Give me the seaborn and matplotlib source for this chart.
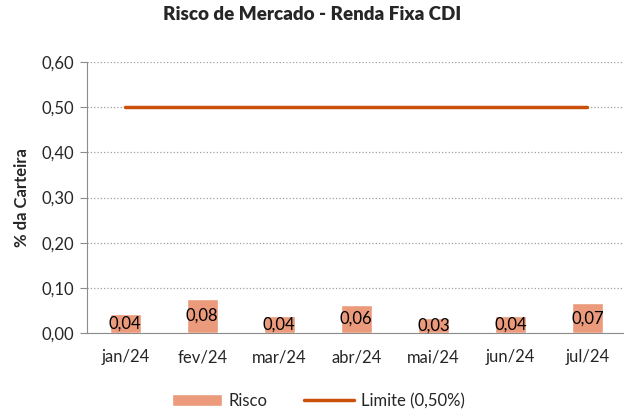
import matplotlib
matplotlib.use("Agg")
import matplotlib.pyplot as plt
import seaborn as sns
import pandas as pd
from matplotlib.ticker import FuncFormatter

meses = ['jan/24', 'fev/24', 'mar/24', 'abr/24', 'mai/24', 'jun/24', 'jul/24']
risco = [0.042, 0.076, 0.038, 0.063, 0.033, 0.038, 0.066]
rotulos = ['0,04', '0,08', '0,04', '0,06', '0,03', '0,04', '0,07']
limite = [0.50, 0.50, 0.50, 0.50, 0.50, 0.50, 0.50]

cor_barra = '#EB9A7C'
cor_linha = '#C9510C'

sns.set_style('white')
plt.rcParams['font.family'] = ['Lato', 'DejaVu Sans']

df = pd.DataFrame({'mes': meses, 'risco': risco, 'limite': limite})

fig = plt.figure(figsize=(6.24, 4.19), dpi=100)
ax = fig.add_axes([0.139, 0.205, 0.864, 0.647])

sns.barplot(data=df, x='mes', y='risco', color=cor_barra, width=0.4,
            saturation=1, ax=ax, label='Risco', zorder=3)
sns.lineplot(x=range(len(meses)), y=limite, color=cor_linha, linewidth=2.5,
             ax=ax, label='Limite (0,50%)', zorder=4)

# rótulos no meio da barra
for i, v in enumerate(risco):
    ax.text(i, v / 2, rotulos[i], ha='center', va='center',
            fontsize=12, color='black', zorder=5)

ax.set_ylim(0, 0.6)
ax.set_xlim(-0.5, len(meses) - 0.5)
ax.set_yticks([0, 0.1, 0.2, 0.3, 0.4, 0.5, 0.6])
ax.yaxis.set_major_formatter(FuncFormatter(lambda v, p: f'{v:.2f}'.replace('.', ',')))
ax.grid(axis='y', linestyle=':', color='#A0A0A0', linewidth=0.9, zorder=0)
ax.set_axisbelow(True)

for s in ['top', 'right']:
    ax.spines[s].set_visible(False)
ax.spines['left'].set_color('#8C8C8C')
ax.spines['bottom'].set_color('#8C8C8C')
ax.tick_params(axis='y', left=True, length=5, color='#8C8C8C', labelsize=12, pad=4)
ax.tick_params(axis='x', bottom=False, labelsize=12, pad=8)

ax.set_xlabel('')
ax.set_ylabel('% da Carteira', fontsize=12, fontweight='bold', labelpad=8)
fig.suptitle('Risco de Mercado - Renda Fixa CDI', x=0.5, y=0.985,
             fontsize=13.5, fontweight='heavy')

handles, labels = ax.get_legend_handles_labels()
ordem = [labels.index('Risco'), labels.index('Limite (0,50%)')]
ax.legend([handles[i] for i in ordem], [labels[i] for i in ordem],
          loc='upper center', bbox_to_anchor=(0.43, -0.165), ncol=2,
          frameon=False, fontsize=12, handlelength=3.0, handletextpad=0.4,
          columnspacing=2.2)

fig.savefig('out.png', dpi=100)
